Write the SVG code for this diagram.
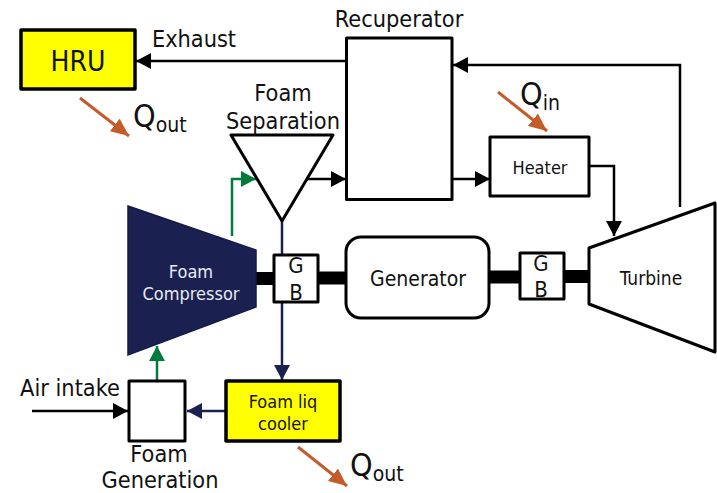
<svg xmlns="http://www.w3.org/2000/svg" width="717" height="493" viewBox="0 0 717 493">
<style>
text{font-family:"DejaVu Sans","Liberation Sans",sans-serif;font-stretch:condensed;fill:#111;text-anchor:middle}
.box{fill:#fff;stroke:#000;stroke-width:3;stroke-linejoin:round}
.yel{fill:#ff0;stroke:#000;stroke-width:3.5;stroke-linejoin:round}
.l{fill:none;stroke:#000;stroke-width:2.5}
.n{fill:none;stroke:#1a2151;stroke-width:2.5}
.g{fill:none;stroke:#007a3d;stroke-width:2.5}
.o{fill:none;stroke:#c55a2b;stroke-width:3}
.t23{font-size:23.300px}.t18{font-size:18px}.gb{font-size:22px}.s{text-anchor:start}
</style>
<defs>
<marker id="k" markerUnits="userSpaceOnUse" markerWidth="15" markerHeight="16" refX="15" refY="8" orient="auto"><path d="M0 0L15 8L0 16Z" fill="#000"/></marker>
<marker id="nv" markerUnits="userSpaceOnUse" markerWidth="15" markerHeight="16" refX="15" refY="8" orient="auto"><path d="M0 0L15 8L0 16Z" fill="#1a2151"/></marker>
<marker id="gr" markerUnits="userSpaceOnUse" markerWidth="15" markerHeight="16" refX="15" refY="8" orient="auto"><path d="M0 0L15 8L0 16Z" fill="#007a3d"/></marker>
<marker id="or" markerUnits="userSpaceOnUse" markerWidth="18" markerHeight="16" refX="18" refY="8" orient="auto"><path d="M0 0L18 8L0 16Z" fill="#c55a2b"/></marker>
</defs>
<g id="connectors">
<path class="l" d="M346 61H136" marker-end="url(#k)"/>
<path class="l" d="M680 207V65H453" marker-end="url(#k)"/>
<path class="l" d="M452 179H490" marker-end="url(#k)"/>
<path class="l" d="M589 166H614V236" marker-end="url(#k)"/>
<path class="l" d="M307 179H346" marker-end="url(#k)"/>
<path class="l" d="M32 411H128" marker-end="url(#k)"/>
<path class="g" d="M232 236V179H256" marker-end="url(#gr)"/>
<path class="g" d="M157 381V346" marker-end="url(#gr)"/>
<path class="n" d="M282 221V255"/>
<path class="n" d="M282 302V380" marker-end="url(#nv)"/>
<path class="n" d="M226 411H187" marker-end="url(#nv)"/>
<path d="M256 278.500H274M318 278H346M489 277H520M564 276.500H589" fill="none" stroke="#000" stroke-width="13"/>
<path class="o" d="M80 98L129 136" marker-end="url(#or)"/>
<path class="o" d="M498 92L547 131" marker-end="url(#or)"/>
<path class="o" d="M298 447L347 486" marker-end="url(#or)"/>
</g>
<g id="hru"><rect class="yel" x="21" y="30" width="114" height="59"/><text x="78" y="71" font-size="28">HRU</text></g>
<g id="qout1"><text class="s" x="133" y="127" font-size="32">Q<tspan font-size="21" dy="5">out</tspan></text></g>
<text class="t23" x="194" y="47">Exhaust</text>
<g id="recuperator"><rect class="box" x="346.500" y="38" width="105.500" height="161.500"/><text class="t23" x="399" y="27">Recuperator</text></g>
<g id="separator"><path class="box" d="M231 135H333L282 221Z"/><text class="t23" x="283" y="101">Foam</text><text class="t23" x="283" y="129">Separation</text></g>
<g id="qin"><text class="s" x="520" y="105" font-size="32">Q<tspan font-size="21" dy="5">in</tspan></text></g>
<g id="heater"><rect class="box" x="490" y="137" width="99" height="59"/><text x="540" y="174" font-size="18">Heater</text></g>
<g id="compressor"><path d="M128 206L256 250V307L128 355Z" fill="#1a2151" stroke="#151b45" stroke-width="1.500"/><text class="t18" x="191" y="278" style="fill:#e8eaf2">Foam</text><text class="t18" x="191" y="300" style="fill:#e8eaf2">Compressor</text></g>
<g id="gb1"><rect class="box" x="274" y="255" width="44" height="47"/><text class="gb" x="296" y="273">G</text><text class="gb" x="296" y="300">B</text></g>
<g id="generator"><rect class="box" x="346" y="237" width="143" height="81" rx="15"/><text font-size="21" x="418" y="286">Generator</text></g>
<g id="gb2"><rect class="box" x="520" y="253" width="44" height="46"/><text class="gb" x="541" y="271">G</text><text class="gb" x="541" y="297">B</text></g>
<g id="turbine"><path class="box" d="M589 248L715 203V352L589 304Z"/><text font-size="19" x="651" y="285">Turbine</text></g>
<g id="foamgen"><rect class="box" x="129" y="381" width="56" height="60"/><text class="t23" x="159" y="462">Foam</text><text class="t23" x="160" y="487.500">Generation</text></g>
<text class="t23" x="70" y="396">Air intake</text>
<g id="cooler"><rect class="yel" x="226" y="381" width="114" height="60"/><text class="t18" x="283" y="408">Foam liq</text><text class="t18" x="283" y="430">cooler</text></g>
<g id="qout2"><text class="s" x="350" y="476" font-size="32">Q<tspan font-size="21" dy="5">out</tspan></text></g>
</svg>
